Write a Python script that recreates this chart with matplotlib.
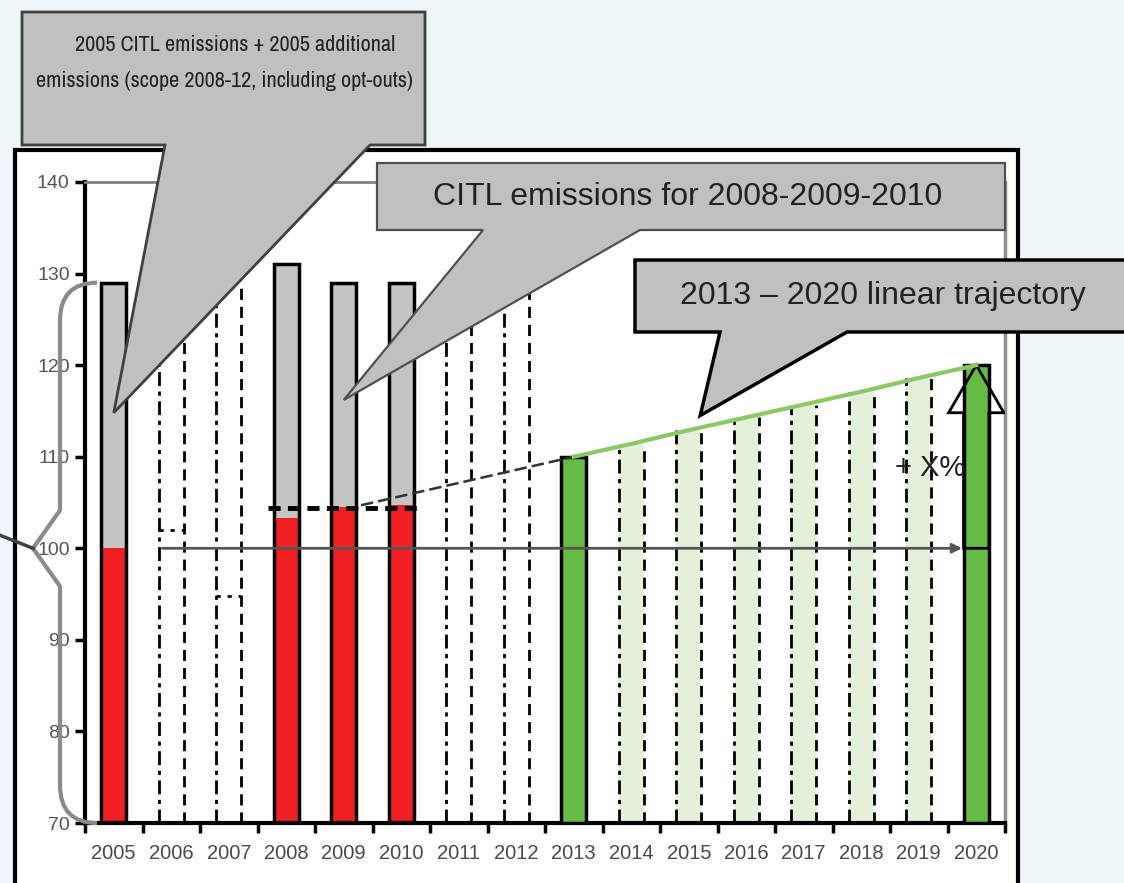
import matplotlib
matplotlib.use("Agg")
import matplotlib.pyplot as plt
from matplotlib import font_manager
from matplotlib.patches import Rectangle, Polygon, FancyArrow, PathPatch
from matplotlib.path import Path

# =====================================
# DATA
# =====================================

years = list(range(2005, 2021))

hist_years = [2005, 2008, 2009, 2010]
hist_citl = [100, 103.3, 104.5, 104.7]        # red part (CITL emissions)
hist_total = [129, 131, 129, 129]             # top of grey part
avg_0810 = 104.4                              # dashed average 2008-2010

ghost_years = [2006, 2007, 2011, 2012]
ghost_tops = [129, 129, 129, 129]
partial_years = [2006, 2007]
partial_vals = [102, 94.8]

cap_years = [2013, 2020]
cap_vals = [110, 120]

traj_years = [2013, 2014, 2015, 2016, 2017, 2018, 2019, 2020]
traj_vals = [110, 111.4, 112.9, 114.3, 115.7, 117.1, 118.6, 120]

back_years = [2009.3, 2013]
back_vals = [104.7, 110]

y_ticks = [70, 80, 90, 100, 110, 120, 130, 140]

text_box1 = ["2005 CITL emissions + 2005 additional",
             "emissions (scope 2008-12, including opt-outs)"]
text_box2 = "CITL emissions for 2008-2009-2010"
text_box3 = "2013 \u2013 2020 linear trajectory"

# =====================================
# FONTS
# =====================================

regular = ['Liberation Sans', 'DejaVu Sans']
narrow_names = sorted({f.name for f in font_manager.fontManager.ttflist
                       if 'Narrow' in f.name or 'Condensed' in f.name})
narrow = narrow_names[:1] + regular
box1_size = 16 if narrow_names else 13.5

# =====================================
# FIGURE
# =====================================

W, H = 1124, 883
BAR_W = 0.44


def fx(x, y):
    # reference pixel -> figure fraction
    return (x / W, 1 - y / H)


fig = plt.figure(figsize=(W / 100, H / 100), dpi=100)
fig.patch.set_facecolor('#eef6fa')

fig.add_artist(Rectangle(fx(15, 910), (1018 - 15) / W, (910 - 150) / H,
                         transform=fig.transFigure, facecolor='white',
                         edgecolor='black', lw=3, zorder=-1))

ax = fig.add_axes([85 / W, 1 - 823 / H, 920 / W, (823 - 182) / H])
ax.set_facecolor('none')
ax.set_xlim(2004.5, 2020.5)
ax.set_ylim(70, 140)

# spines
for side in ['left', 'bottom']:
    ax.spines[side].set_linewidth(3)
    ax.spines[side].set_color('black')
ax.spines['top'].set_color('#808080')
ax.spines['top'].set_linewidth(2)
ax.spines['right'].set_color('#909090')
ax.spines['right'].set_linewidth(2.5)

# ticks
ax.set_yticks(y_ticks)
ax.set_yticklabels([str(v) for v in y_ticks])
ax.tick_params(axis='y', length=7, width=2.5, pad=4, labelsize=14,
               labelcolor='#555555')

ax.set_xticks([y - 0.5 for y in years] + [years[-1] + 0.5])
ax.set_xticklabels([])
ax.set_xticks(years, minor=True)
ax.set_xticklabels([str(y) for y in years], minor=True)
ax.tick_params(axis='x', which='major', length=7, width=2.5)
ax.tick_params(axis='x', which='minor', length=0, pad=15, labelsize=14.5,
               labelcolor='#4a4a4a')
for lab in ax.get_xticklabels(minor=True) + ax.get_yticklabels():
    lab.set_family(regular)

# =====================================
# BARS
# =====================================

red_h = [v - 70 for v in hist_citl]
grey_h = [t - v for t, v in zip(hist_total, hist_citl)]
ax.bar(hist_years, red_h, bottom=70, width=BAR_W, color='#ee2024', lw=0, zorder=2)
ax.bar(hist_years, grey_h, bottom=hist_citl, width=BAR_W, color='#c4c4c4', lw=0, zorder=2)
ax.bar(hist_years, [t - 70 for t in hist_total], bottom=70, width=BAR_W,
       fill=False, edgecolor='black', lw=2.5, zorder=3)

# dashed "empty" years
for yr, top in zip(ghost_years, ghost_tops):
    ax.plot([yr - BAR_W / 2] * 2, [70, top], color='black', lw=2,
            ls=(0, (5, 2, 1.5, 2)), zorder=2)
    ax.plot([yr + BAR_W / 2] * 2, [70, top], color='black', lw=2,
            ls=(0, (4, 2.5)), zorder=2)
for yr, v in zip(partial_years, partial_vals):
    ax.plot([yr - BAR_W / 2, yr + BAR_W / 2], [v, v], color='black', lw=2,
            ls=(0, (1.5, 2.5)), zorder=2)

# trajectory years 2014-2019
mid_years = traj_years[1:-1]
mid_vals = traj_vals[1:-1]
ax.bar(mid_years, [v - 70 for v in mid_vals], bottom=70, width=BAR_W,
       color='#e4f1da', lw=0, zorder=1)
for yr, top in zip(mid_years, mid_vals):
    ax.plot([yr - BAR_W / 2] * 2, [70, top], color='black', lw=2,
            ls=(0, (5, 2, 1.5, 2)), zorder=2)
    ax.plot([yr + BAR_W / 2] * 2, [70, top], color='black', lw=2,
            ls=(0, (4, 2.5)), zorder=2)

# arrow behind the 2020 bar
arrow_kw = dict(width=BAR_W, head_width=0.96, head_length=5.2,
                length_includes_head=True)
ax.add_patch(FancyArrow(cap_years[1], 100, 0, cap_vals[1] - 100, facecolor='white',
                        edgecolor='none', zorder=2, **arrow_kw))

# green cap bars
ax.bar(cap_years, [v - 70 for v in cap_vals], bottom=70, width=BAR_W,
       color='#66bb44', edgecolor='black', lw=2.5, zorder=3)
ax.add_patch(FancyArrow(cap_years[1], 100, 0, cap_vals[1] - 100, facecolor='none',
                        edgecolor='black', lw=2, zorder=4, **arrow_kw))

# average line 2008-2010 and trajectory
ax.plot([hist_years[1] - BAR_W / 2 - 0.1, hist_years[3] + BAR_W / 2 + 0.05],
        [avg_0810, avg_0810], color='black', lw=3.5, ls=(0, (2.5, 1.5)), zorder=5)
ax.plot(back_years, back_vals, color='#333333', lw=1.8, ls=(0, (5, 2)), zorder=5)
ax.plot(traj_years, traj_vals, color='#8cc866', lw=3, zorder=5)

# 100 baseline arrow
ax.annotate('', xy=(2019.8, 100), xytext=(2005.8, 100),
            arrowprops=dict(arrowstyle='-|>', color='#555555', lw=2,
                            mutation_scale=14), zorder=5)

ax.text(2019.2, 108.8, '+ X%', ha='center', va='center', fontsize=21,
        color='#222222', family=regular, zorder=6)

# =====================================
# CALLOUTS
# =====================================


def d2f(x, y):
    return tuple(fig.transFigure.inverted().transform(ax.transData.transform((x, y))))


def callout(box, base, tip, edge, lw):
    x0, y0, x1, y1 = box
    bl, br = base
    pts = [fx(x0, y0), fx(x1, y0), fx(x1, y1), fx(br, y1), d2f(*tip),
           fx(bl, y1), fx(x0, y1)]
    fig.add_artist(Polygon(pts, closed=True, transform=fig.transFigure,
                           facecolor='#c0c0c0', edgecolor=edge, lw=lw,
                           joinstyle='miter', zorder=5))


callout((22, 12, 425, 145), (165, 370), (2005.0, 114.8), '#404040', 2)
callout((377, 163, 1005, 230), (483, 640), (2009.0, 116.2), '#505050', 1.6)
callout((635, 260, 1135, 332), (720, 847), (2015.2, 114.5), 'black', 2.5)

fig.text(*fx(235, 45), text_box1[0], ha='center', va='center', fontsize=box1_size,
         family=narrow, color='#222222', zorder=6)
fig.text(*fx(224, 81), text_box1[1], ha='center', va='center', fontsize=box1_size,
         family=narrow, color='#222222', zorder=6)
fig.text(*fx(688, 197), text_box2, ha='center', va='center', fontsize=23,
         family=regular, color='#222222', zorder=6)
fig.text(*fx(883, 296), text_box3, ha='center', va='center', fontsize=23,
         family=regular, color='#222222', zorder=6)

# =====================================
# LEFT BRACE
# =====================================

y_top = d2f(2004.5, hist_total[0])[1]
y_mid = d2f(2004.5, hist_citl[0])[1]
y_bot = d2f(2004.5, 70)[1]
bx, bx_in, tip_x = 60 / W, 97 / W, 33 / W
r = 38 / H
verts = [(bx_in, y_top), (bx, y_top), (bx, y_top - r),
         (bx, y_mid + r), (tip_x, y_mid), (bx, y_mid - r),
         (bx, y_bot + r), (bx, y_bot), (bx_in, y_bot)]
codes = [Path.MOVETO, Path.CURVE3, Path.CURVE3,
         Path.LINETO, Path.LINETO, Path.LINETO,
         Path.LINETO, Path.CURVE3, Path.CURVE3]
fig.add_artist(PathPatch(Path(verts, codes), transform=fig.transFigure,
                         facecolor='none', edgecolor='#8a8a8a', lw=3, zorder=4))
fig.add_artist(plt.Line2D([tip_x, 0], [y_mid, y_mid + 13 / H],
                          transform=fig.transFigure, color='#404040', lw=2.5,
                          zorder=4))

fig.savefig('out.png', dpi=100, facecolor=fig.get_facecolor())
